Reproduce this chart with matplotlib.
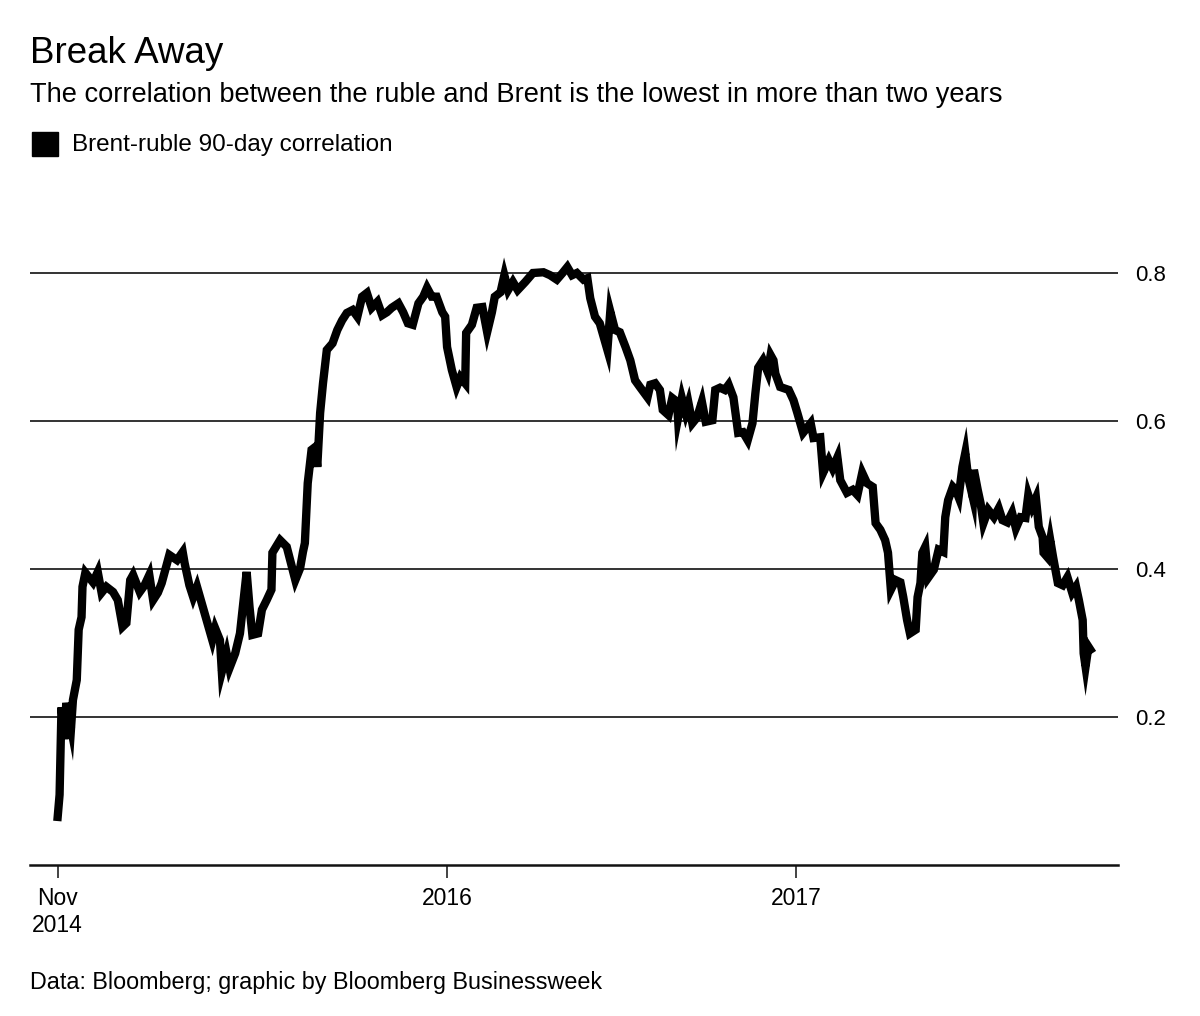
import matplotlib
matplotlib.use("Agg")
import matplotlib.pyplot as plt
import matplotlib.patches as mpatches
import numpy as np
import pandas as pd

plt.rcParams['font.family'] = ['Liberation Sans', 'DejaVu Sans']

# ---------------- data ----------------
start_date = "2014-11-19"
# days since start_date
days = [0, 2, 4, 7, 9, 14, 16, 20, 22, 25, 26, 29, 37, 42, 46, 51, 58, 63, 68, 72,
        76, 79, 86, 91, 96, 100, 105, 109, 114, 117, 125, 131, 133, 138, 142, 146, 152, 157, 162, 165,
        170, 172, 177, 180, 186, 191, 194, 198, 201, 204, 210, 214, 219, 224, 225, 233, 240, 249, 254, 257,
        259, 262, 266, 270, 272, 275, 278, 282, 288, 293, 298, 303, 309, 314, 319, 324, 329, 335, 340, 345,
        350, 357, 362, 367, 372, 378, 383, 387, 392, 397, 403, 406, 408, 413, 418, 422, 427, 428, 434, 439,
        445, 450, 455, 458, 464, 468, 472, 477, 482, 490, 498, 509, 516, 523, 529, 534, 539, 544, 551, 555,
        558, 563, 568, 576, 579, 584, 589, 595, 600, 605, 610, 618, 621, 626, 631, 634, 640, 644, 649, 650,
        654, 658, 661, 665, 670, 675, 679, 686, 689, 694, 699, 703, 708, 713, 718, 723, 728, 731, 734, 739,
        744, 747, 750, 752, 757, 766, 771, 775, 781, 789, 792, 799, 802, 808, 812, 817, 820, 827, 833, 838,
        843, 848, 854, 857, 862, 867, 870, 873, 878, 883, 886, 890, 893, 899, 901, 904, 906, 909, 912, 918,
        923, 928, 930, 933, 938, 941, 944, 948, 951, 954, 959, 960, 964, 967, 970, 975, 981, 986, 990, 995,
        1000, 1004, 1009, 1014, 1017, 1021, 1025, 1028, 1032, 1033, 1037, 1040, 1043, 1048, 1053, 1058, 1063, 1067, 1070, 1074,
        1075, 1077, 1080, 1082]
correlation = [0.065, 0.095, 0.213, 0.170, 0.219, 0.185, 0.223, 0.250, 0.318, 0.335, 0.376, 0.395, 0.382, 0.396, 0.368, 0.376, 0.369, 0.358, 0.322, 0.327,
               0.385, 0.392, 0.369, 0.378, 0.392, 0.358, 0.368, 0.381, 0.405, 0.419, 0.412, 0.423, 0.408, 0.378, 0.362, 0.376, 0.349, 0.327, 0.304, 0.320,
               0.304, 0.261, 0.286, 0.266, 0.286, 0.313, 0.349, 0.396, 0.349, 0.311, 0.313, 0.345, 0.358, 0.372, 0.422, 0.439, 0.430, 0.385, 0.401, 0.423,
               0.435, 0.516, 0.561, 0.565, 0.538, 0.611, 0.651, 0.696, 0.705, 0.723, 0.736, 0.746, 0.750, 0.741, 0.768, 0.773, 0.753, 0.761, 0.743, 0.747,
               0.753, 0.759, 0.747, 0.732, 0.730, 0.759, 0.768, 0.780, 0.768, 0.768, 0.747, 0.741, 0.700, 0.669, 0.646, 0.659, 0.651, 0.719, 0.730, 0.753,
               0.754, 0.720, 0.747, 0.768, 0.774, 0.797, 0.777, 0.788, 0.777, 0.788, 0.800, 0.801, 0.797, 0.791, 0.800, 0.808, 0.797, 0.800, 0.791, 0.793,
               0.766, 0.741, 0.732, 0.696, 0.748, 0.723, 0.720, 0.700, 0.682, 0.655, 0.646, 0.632, 0.649, 0.651, 0.642, 0.615, 0.608, 0.631, 0.626, 0.604,
               0.631, 0.611, 0.624, 0.597, 0.605, 0.626, 0.599, 0.601, 0.642, 0.645, 0.642, 0.649, 0.632, 0.584, 0.585, 0.574, 0.597, 0.637, 0.672, 0.682,
               0.666, 0.689, 0.682, 0.664, 0.646, 0.642, 0.628, 0.611, 0.584, 0.597, 0.577, 0.578, 0.530, 0.547, 0.536, 0.551, 0.520, 0.503, 0.507, 0.500,
               0.530, 0.516, 0.511, 0.462, 0.453, 0.439, 0.422, 0.372, 0.385, 0.382, 0.362, 0.331, 0.313, 0.318, 0.362, 0.381, 0.422, 0.430, 0.388, 0.399,
               0.426, 0.423, 0.470, 0.493, 0.511, 0.507, 0.497, 0.538, 0.557, 0.524, 0.496, 0.534, 0.507, 0.489, 0.462, 0.480, 0.470, 0.482, 0.466, 0.463,
               0.476, 0.455, 0.470, 0.469, 0.500, 0.484, 0.496, 0.457, 0.443, 0.422, 0.416, 0.439, 0.416, 0.381, 0.378, 0.389, 0.368, 0.376, 0.358, 0.331,
               0.286, 0.268, 0.295, 0.291]
tick_dates = ["2014-11-19", "2016-01-01", "2017-01-01"]
tick_labels = ["Nov\n2014", "2016", "2017"]
y_ticks = [0.2, 0.4, 0.6, 0.8]
y_labels = ["0.2", "0.4", "0.6", "0.8"]

title = "Break Away"
subtitle = "The correlation between the ruble and Brent is the lowest in more than two years"
legend_label = "Brent-ruble 90-day correlation"
footer = "Data: Bloomberg; graphic by Bloomberg Businessweek"

dates = pd.Timestamp(start_date) + pd.to_timedelta(days, unit="D")

# ---------------- figure ----------------
W, H = 1200, 1016
fig = plt.figure(figsize=(W / 100, H / 100), dpi=100)
ax = fig.add_axes([30 / W, 1 - 865 / H, (1118 - 30) / W, (865 - 236) / H])

ax.plot(dates, correlation, color="black", lw=6, solid_joinstyle="miter", zorder=3)

ax.set_ylim(0, 0.85)
ax.set_xlim(pd.Timestamp(start_date) - pd.Timedelta(days=29), pd.Timestamp(start_date) + pd.Timedelta(days=1111))

for v in y_ticks:
    ax.axhline(v, color="#111111", lw=1.2, zorder=1)

ax.yaxis.tick_right()
ax.set_yticks(y_ticks)
ax.set_yticklabels(y_labels, fontsize=16)
ax.tick_params(axis="y", length=0, pad=12)

ax.set_xticks(pd.to_datetime(tick_dates))
ax.set_xticklabels(tick_labels, fontsize=16.5, linespacing=1.2)
ax.tick_params(axis="x", length=9, width=1.2, color="#222222", pad=7)

for s in ["top", "left", "right"]:
    ax.spines[s].set_visible(False)
ax.spines["bottom"].set_linewidth(1.8)
ax.spines["bottom"].set_color("#111111")

# ---------------- texts ----------------
fig.text(30 / W, 1 - 63 / H, title, fontsize=26.5, va="baseline", ha="left")
fig.text(30 / W, 1 - 102 / H, subtitle, fontsize=19.6, va="baseline", ha="left")
fig.patches.append(mpatches.Rectangle((32 / W, 1 - 156 / H), 26 / W, 24 / H,
                                      transform=fig.transFigure, color="black", figure=fig))
fig.text(72 / W, 1 - 151 / H, legend_label, fontsize=17.5, va="baseline", ha="left")
fig.text(30 / W, 1 - 989 / H, footer, fontsize=16.8, va="baseline", ha="left")

fig.savefig("out.png", dpi=100)
